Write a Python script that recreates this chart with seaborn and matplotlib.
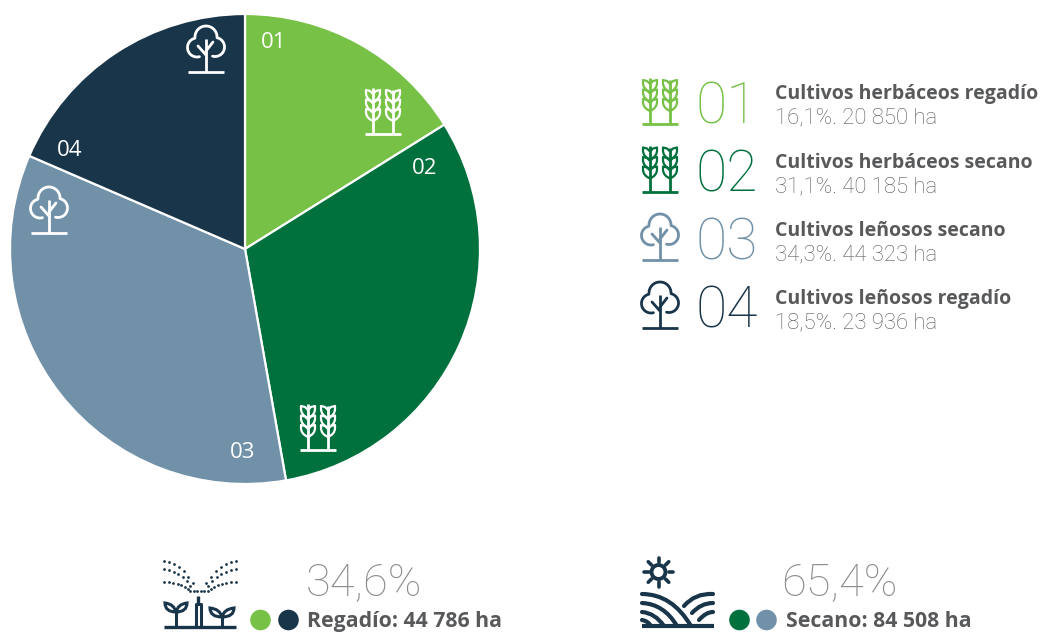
import matplotlib
matplotlib.use('Agg')
import matplotlib.pyplot as plt
import numpy as np
import seaborn as sns
from matplotlib.patches import Circle, PathPatch
from matplotlib.path import Path

# data
codes = ['01', '02', '03', '04']
names = ['Cultivos herbáceos regadío', 'Cultivos herbáceos secano', 'Cultivos leñosos secano', 'Cultivos leñosos regadío']
details = ['16,1%. 20 850 ha', '31,1%. 40 185 ha', '34,3%. 44 323 ha', '18,5%. 23 936 ha']
hectares = [20850, 40185, 44323, 23936]
colors = ['#76C146', '#00703C', '#7191A8', '#19354A']
totals_pct = ['34,6%', '65,4%']
totals_txt = ['Regadío: 44 786 ha', 'Secano: 84 508 ha']

W, H = 1042, 632
GREY = '#58595B'
LIGHT_GREY = '#8B8D90'
FONT = ['Open Sans', 'DejaVu Sans']
THIN = ['Roboto', 'DejaVu Sans']

sns.set_theme(style='white')
plt.rcParams['font.family'] = FONT


def wheat(ax, x0, base, color, lw=2.0):
    # two ears of wheat on a common base line
    ax.plot([x0, x0 + 36], [base, base], color=color, lw=lw, solid_capstyle='butt')
    for dx, top in [(8, 46), (28, 44)]:
        x = x0 + dx
        ax.plot([x, x], [base, base - top], color=color, lw=lw, solid_capstyle='butt')
        for k in range(3):
            y = base - 13 - k * 9.5
            for s in (-1, 1):
                verts = [(x, y), (x + s * 7, y - 3), (x + s * 7, y - 9),
                         (x + s * 7, y - 12), (x + s * 3, y - 11), (x, y - 8)]
                ax.add_patch(PathPatch(Path(verts, [Path.MOVETO, Path.CURVE3, Path.CURVE3, Path.LINETO, Path.LINETO, Path.LINETO]),
                                       fill=False, ec=color, lw=lw * 0.8, joinstyle='round'))


def tree(ax, x0, base, color, lw=2.0):
    # tree with a crown of three overlapping lobes, x0 is the left end of the base line
    cx = x0 + 18
    cy = base - 29.5
    ax.plot([x0, x0 + 36], [base, base], color=color, lw=lw, solid_capstyle='butt')
    ax.plot([cx, cx], [base, base - 33], color=color, lw=lw, solid_capstyle='butt')
    ax.plot([cx, cx - 8], [base - 17, base - 26], color=color, lw=lw)
    ax.plot([cx, cx + 7], [base - 21, base - 30], color=color, lw=lw)
    lobes = [(-9, 5, 9.5, 75, 300), (0, -5.5, 11, 180, 360), (9, 4.5, 9.5, 240, 465)]
    for i, (a, b, r, t0, t1) in enumerate(lobes):
        t = np.radians(np.linspace(t0, t1, 80))
        xs = a + r * np.cos(t)
        ys = b + r * np.sin(t)
        for j, (a2, b2, r2, _, _) in enumerate(lobes):
            if j != i:
                inside = (xs - a2) ** 2 + (ys - b2) ** 2 < r2 ** 2
                xs = np.where(inside, np.nan, xs)
        ax.plot(cx + xs, cy + ys, color=color, lw=lw, solid_capstyle='round')


def sprinkler(ax, color):
    ax.plot([164, 236], [626.5, 626.5], color=color, lw=2.4, solid_capstyle='butt')
    ax.plot([195.5, 195.5, 201, 201], [626, 604, 604, 626], color=color, lw=2.2)
    ax.plot([198.2, 198.2], [604, 596], color=color, lw=2.4, solid_capstyle='butt')
    for x, top, wid in [(176, 608, 11), (222, 613, 12)]:
        ax.plot([x, x], [626, top], color=color, lw=2.2, solid_capstyle='butt')
        for s in (-1, 1):
            verts = [(x, top + 4), (x + s * 2, top - 4), (x + s * wid, top - 5),
                     (x + s * wid, top + 4), (x, top + 4)]
            ax.add_patch(PathPatch(Path(verts, [Path.MOVETO, Path.CURVE3, Path.CURVE3, Path.CURVE3, Path.CURVE3]),
                                   fill=False, ec=color, lw=2.2))
    # water fans, three rows of droplets each side
    for s in (-1, 1):
        for y_out, y_ctrl, end_dx in [(560.5, 562.5, 2), (569, 571, 5), (582, 582, 9)]:
            t = np.linspace(0, 1, 8)
            xa, xb, xc = 200 + s * 36, 200 + s * 18, 199 + s * end_dx
            ya, yb, yc = y_out, y_ctrl, 591
            xs = (1 - t) ** 2 * xa + 2 * t * (1 - t) * xb + t ** 2 * xc
            ys = (1 - t) ** 2 * ya + 2 * t * (1 - t) * yb + t ** 2 * yc
            ax.scatter(xs, ys, s=4, color=color, linewidths=0)


def field(ax, color):
    # sun
    cx, cy = 658.5, 572
    ax.add_patch(Circle((cx, cy), 7, fill=False, ec=color, lw=2.8))
    for a in np.arange(0, 360, 45):
        r = np.radians(a)
        ax.plot([cx + 10 * np.cos(r), cx + 14.5 * np.cos(r)], [cy + 10 * np.sin(r), cy + 14.5 * np.sin(r)],
                color=color, lw=2.6, solid_capstyle='round')
    # furrows
    ax.plot([642, 714], [626, 626], color=color, lw=3, solid_capstyle='butt')
    for start, ctrl, end in [((642, 594), (672, 594), (691, 626)),
                             ((642, 603), (664, 604), (677, 626)),
                             ((642, 612), (655, 613), (664, 626)),
                             ((642, 620), (648, 621), (651, 626)),
                             ((713, 594), (695, 593), (684, 606)),
                             ((713, 603), (701, 603), (692, 613)),
                             ((713, 612), (706, 612), (699, 620))]:
        ax.add_patch(PathPatch(Path([start, ctrl, end], [Path.MOVETO, Path.CURVE3, Path.CURVE3]),
                               fill=False, ec=color, lw=3, capstyle='round'))


fig = plt.figure(figsize=(W / 100, H / 100), dpi=100, facecolor='white')

# pie, 235 px radius around (245, 249)
ax_pie = fig.add_axes([10 / W, 1 - 484 / H, 470 / W, 470 / H])
ax_pie.pie(hectares, colors=colors, startangle=90, counterclock=False, radius=1,
           wedgeprops={'edgecolor': 'white', 'linewidth': 1.6})
ax_pie.set_xlim(-1, 1)
ax_pie.set_ylim(-1, 1)

# overlay in pixel coordinates
ax = fig.add_axes([0, 0, 1, 1], facecolor='none')
ax.set_xlim(0, W)
ax.set_ylim(H, 0)
ax.axis('off')

# labels and icons on the slices
for code, (x, y) in zip(codes, [(274, 43), (425, 169), (243, 452), (70, 150)]):
    ax.text(x, y, code, color='white', fontsize=16, ha='center', va='center')
wheat(ax, 365, 134, 'white')
wheat(ax, 300, 450, 'white')
tree(ax, 31, 233, 'white')
tree(ax, 188, 72, 'white')

# legend
rows = [123, 191.5, 260, 328]
for i, base in enumerate(rows):
    ax.text(727, base, codes[i], color=colors[i], family=THIN, fontsize=41, fontweight='light', ha='center', va='baseline')
    ax.text(775, base - 24, names[i], color=GREY, fontsize=14, fontweight='bold', ha='left', va='baseline')
    ax.text(775, base + 0.5, details[i], color=GREY, family=THIN, fontsize=15.9, fontweight='light', ha='left', va='baseline')
    if i < 2:
        wheat(ax, 642, base + 1 if i == 0 else base, colors[i])
    else:
        tree(ax, 642, base, colors[i])

# totals
ax.text(363.5, 596, totals_pct[0], color=LIGHT_GREY, family=THIN, fontsize=32.5, fontweight='light', ha='center', va='baseline')
ax.text(839, 596, totals_pct[1], color=LIGHT_GREY, family=THIN, fontsize=32.5, fontweight='light', ha='center', va='baseline')
ax.text(307, 627, totals_txt[0], color=GREY, fontsize=15.3, fontweight='bold', ha='left', va='baseline')
ax.text(786, 627, totals_txt[1], color=GREY, fontsize=15.3, fontweight='bold', ha='left', va='baseline')
for x, c in [(260.5, colors[0]), (288.5, colors[3]), (739.5, colors[1]), (766.5, colors[2])]:
    ax.add_patch(Circle((x, 620), 10.3, color=c, lw=0))
sprinkler(ax, colors[3])
field(ax, colors[3])

fig.savefig('out.png', dpi=100)
